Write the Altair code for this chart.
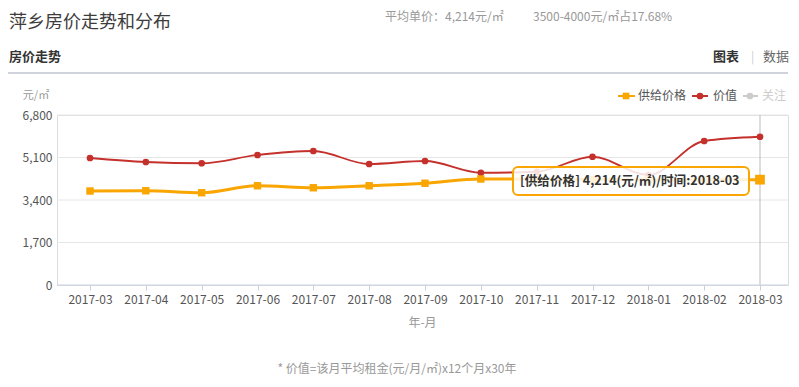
import altair as alt
import pandas as pd

FONT = "Noto Sans CJK SC"

months = ["2017-03", "2017-04", "2017-05", "2017-06", "2017-07", "2017-08", "2017-09",
          "2017-10", "2017-11", "2017-12", "2018-01", "2018-02", "2018-03"]
supply = [3760, 3770, 3690, 3970, 3890, 3970, 4070, 4240, 4230, 4220, 4210, 4210, 4214]
value = [5080, 4920, 4870, 5200, 5360, 4840, 4960, 4490, 4530, 5130, 4400, 5760, 5930]
y_ticks = [0, 1700, 3400, 5100, 6800]

ORANGE = "#f9a602"
RED = "#c4302b"
GRAY_LEG = "#cccccc"

df = pd.DataFrame({
    "month": months * 2,
    "price": supply + value,
    "series": ["供给价格"] * len(months) + ["价值"] * len(months),
})

W, H = 731, 170

x_enc = alt.X("month:O", sort=months,
              scale=alt.Scale(type="point", range=[33, 703], padding=0),
              axis=alt.Axis(title=None, labelAngle=0, domain=False, ticks=True,
                            tickColor="#c8d0e0", tickSize=5, labelColor="#555",
                            labelFontSize=12, labelPadding=4, grid=False, labelFont=FONT))
y_enc = alt.Y("price:Q", scale=alt.Scale(domain=[0, 6800], nice=False),
              axis=alt.Axis(values=y_ticks, format=",d", title=None, domain=False,
                            ticks=False, grid=False, labelColor="#555",
                            labelPadding=5, labelFontSize=12, labelFont=FONT))

base = alt.Chart(df)

one = pd.DataFrame({"a": [0]})


def txt(s, x, y, size=12, color="#999", weight="normal", align="left", baseline="middle"):
    return alt.Chart(pd.DataFrame({"t": [s]})).mark_text(
        align=align, baseline=baseline, fontSize=size, color=color,
        fontWeight=weight, font=FONT
    ).encode(text="t:N", x=alt.value(x), y=alt.value(y))


grid = alt.Chart(pd.DataFrame({"v": y_ticks[1:]})).mark_rule(
    color="#e6e6e6", strokeWidth=1).encode(
    y=alt.Y("v:Q", scale=alt.Scale(domain=[0, 6800], nice=False)),
    x=alt.value(0), x2=alt.value(W))

vrule = base.transform_filter(alt.datum.month == "2018-03").transform_filter(
    alt.datum.series == "价值").mark_rule(color="#bbbbbb", strokeWidth=1).encode(x=x_enc)

xaxis_line = alt.Chart(one).mark_rule(color="#c8d0e0", strokeWidth=1).encode(
    x=alt.value(0), x2=alt.value(W), y=alt.value(H))

red_line = base.transform_filter(alt.datum.series == "价值").mark_line(
    color=RED, strokeWidth=1.8, interpolate="monotone").encode(x=x_enc, y=y_enc)
red_pts = base.transform_filter(alt.datum.series == "价值").mark_point(
    shape="circle", filled=True, size=45, color=RED, opacity=1).encode(x=x_enc, y=y_enc)
or_line = base.transform_filter(alt.datum.series == "供给价格").mark_line(
    color=ORANGE, strokeWidth=3, interpolate="monotone").encode(x=x_enc, y=y_enc)
or_pts = base.transform_filter(alt.datum.series == "供给价格").mark_point(
    shape="square", filled=True, size=55, color=ORANGE, opacity=1).encode(x=x_enc, y=y_enc)
or_hover = base.transform_filter(alt.datum.series == "供给价格").transform_filter(
    alt.datum.month == "2018-03").mark_point(
    shape="square", filled=True, size=95, color=ORANGE, opacity=1).encode(x=x_enc, y=y_enc)

tip_box = alt.Chart(one).mark_rect(
    cornerRadius=5, stroke=ORANGE, strokeWidth=2, fill="white", fillOpacity=0.85
).encode(x=alt.value(456), x2=alt.value(692), y=alt.value(52), y2=alt.value(80))
tip_text = txt("[供给价格] 4,214(元/㎡)/时间:2018-03", 463, 66, size=12.6, color="#333", weight="bold")

# legend
leg = []
for (x1, x2, xm, shape, col, label, lx, lcol) in [
    (561, 578, 569, "square", ORANGE, "供给价格", 581, "#555"),
    (635, 651, 643, "circle", RED, "价值", 656, "#555"),
    (686, 701, 693, "circle", GRAY_LEG, "关注", 705, GRAY_LEG),
]:
    leg.append(alt.Chart(one).mark_rule(color=col, strokeWidth=2).encode(
        x=alt.value(x1), x2=alt.value(x2), y=alt.value(-19)))
    leg.append(alt.Chart(one).mark_point(shape=shape, filled=True, size=45, color=col, opacity=1).encode(
        x=alt.value(xm), y=alt.value(-19)))
    leg.append(txt(label, lx, -19, size=12, color=lcol))

sep = alt.Chart(one).mark_rule(color="#d0d3dc", strokeWidth=2).encode(
    x=alt.value(-49), x2=alt.value(731), y=alt.value(-42))

texts = [
    txt("萍乡房价走势和分布", -48, -101, size=18, color="#3d3d3d", baseline="top"),
    txt("平均单价：4,214元/㎡", 328, -103, size=12, color="#999", baseline="top"),
    txt("3500-4000元/㎡占17.68%", 476, -103, size=12, color="#999", baseline="top"),
    txt("房价走势", -48, -58, size=13, color="#333", weight="bold"),
    txt("图表", 656, -58, size=13, color="#333", weight="bold"),
    txt("|", 694, -58, size=12, color="#ccc"),
    txt("数据", 706, -58, size=13, color="#666"),
    txt("元/㎡", -21, -19, size=11, color="#999", align="center"),
    txt("年-月", W / 2, 208, size=12, color="#999", align="center"),
    txt("* 价值=该月平均租金(元/月/㎡)x12个月x30年", 340, 254, size=12, color="#999", align="center"),
]

chart = alt.layer(
    grid, vrule, xaxis_line, red_line, red_pts, or_line, or_pts, or_hover,
    tip_box, tip_text, sep, *leg, *texts
).properties(
    width=W, height=H,
    padding={"left": 49, "top": 107, "right": 3, "bottom": 94},
    autosize=alt.AutoSizeParams(type="none"),
).configure_view(stroke=None).configure(font=FONT)

chart.save("out.html", embed_options={"renderer": "svg", "actions": False})
